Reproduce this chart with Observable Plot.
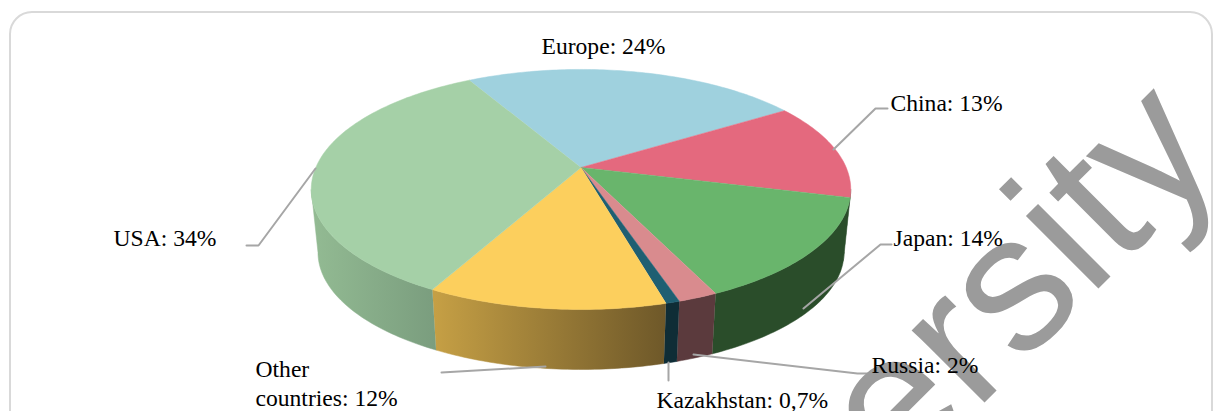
<!DOCTYPE html>
<html><head><meta charset="utf-8">
<style>html,body{margin:0;padding:0;background:#fff;overflow:hidden}svg{display:block}</style>
<script src="https://cdn.jsdelivr.net/npm/d3@7"></script>
<script src="https://cdn.jsdelivr.net/npm/@observablehq/plot@0.6"></script>
</head><body><div id="chart"></div>
<script>
// Data
const regions = ["Europe","China","Japan","Russia","Kazakhstan","Other countries","USA"];
const shares  = [24,13,14,2,0.7,12,34];
const labels  = ["Europe: 24%","China: 13%","Japan: 14%","Russia: 2%","Kazakhstan: 0,7%","Other\ncountries: 12%","USA: 34%"];
const topColors  = ["#9fd1de","#e4697e","#69b56c","#d98b8e","#1f5f72","#fccf5d","#a5d0a7"];
const wallColors = ["#6d8f98","#2a4d2a","#2a4d2a","#5b3a3d","#0f2d36","url(#wallOther)","url(#wallUSA)"];

// Layout
const W = 1213, H = 411;
const pie = {cx:580.5, cy:167, a:265.2, b:116, k:0.183, start:-29.2, vy:2708, shrink:0.975};
const labelAt = [[541,53],[890,110],[893,245],[871,372],[656,407],[255,405],[113,245]];
const leaders = [
  [],
  [[833,149],[875,108],[887,108]],
  [[803,308],[880,244],[891,244]],
  [[693,354],[857,373],[870,373]],
  [[668,362],[668,380]],
  [[545,366],[441,372]],
  [[315,168],[258,245],[246,245]]
];

const total = d3.sum(shares);
const tangent = Math.acos(-pie.k)*180/Math.PI;   // where the rim turns away from the viewer
function rim(deg){
  const t = deg*Math.PI/180, X = Math.sin(t), Y = Math.cos(t), w = 1 + pie.k*Y;
  return [pie.cx + pie.a*X/w, pie.cy - pie.b*Y/w];
}
function low([x,y]){
  return [pie.cx + (x-pie.cx)*pie.shrink, pie.vy + (y-pie.vy)*pie.shrink];
}
function arc(a0,a1){
  const n = Math.max(2, Math.ceil(Math.abs(a1-a0)));
  return d3.range(n+1).map(i => rim(a0+(a1-a0)*i/n));
}
let cursor = pie.start;
const slices = regions.map((name,i)=>{
  const a0 = cursor, a1 = cursor + shares[i]/total*360;
  cursor = a1;
  return {name,i,a0,a1};
});
const topPts = slices.flatMap(s=>[[pie.cx,pie.cy],...arc(s.a0,s.a1)].map(([x,y])=>({x,y,name:s.name,color:topColors[s.i]})));
const wallPts = slices.flatMap(s=>{
  const a0 = Math.max(s.a0,tangent), a1 = Math.min(s.a1,360-tangent);
  if (a1 <= a0) return [];
  const top = arc(a0,a1), bottom = top.map(low).reverse();
  return [...top,...bottom].map(([x,y])=>({x,y,name:s.name,color:wallColors[s.i]}));
});
const leaderPts = leaders.flatMap((l,i)=>l.map(([x,y])=>({x,y,name:regions[i]})));
const labelRows = labels.map((text,i)=>({text,x:labelAt[i][0],y:labelAt[i][1]}));

function gradients(){
  const defs = d3.create("svg:defs");
  const mk = (id,a,b)=>{
    const g = defs.append("linearGradient").attr("id",id).attr("x1",0).attr("x2",1).attr("y1",0).attr("y2",0);
    g.append("stop").attr("offset",0).attr("stop-color",a);
    g.append("stop").attr("offset",1).attr("stop-color",b);
  };
  mk("wallOther","#c6a045","#6e5829");
  mk("wallUSA","#93bb93","#7a9d7e");
  return defs.node();
}

const chart = Plot.plot({
  width:W, height:H, margin:0,
  x:{domain:[0,W],range:[0,W],axis:null},
  y:{domain:[0,H],range:[0,H],axis:null},
  color:{type:"identity"},
  style:{background:"#fff"},
  marks:[
    gradients,
    Plot.rect([{x1:10,x2:1212,y1:12,y2:440}],{x1:"x1",x2:"x2",y1:"y1",y2:"y2",fill:"#fff",stroke:"#d9d9d9",strokeWidth:2,rx:22}),
    Plot.line(wallPts,{x:"x",y:"y",z:"name",fill:"color",stroke:"color",strokeWidth:0.5,curve:"linear"}),
    Plot.line(topPts,{x:"x",y:"y",z:"name",fill:"color",stroke:"color",strokeWidth:0.5,curve:"linear"}),
    Plot.line(leaderPts,{x:"x",y:"y",z:"name",stroke:"#a6a6a6",strokeWidth:2,curve:"linear"}),
    Plot.text(["University"],{x:()=>1226,y:()=>160,text:d=>d,rotate:-45,textAnchor:"end",lineAnchor:"bottom",fontSize:194,fontFamily:"Liberation Sans",fill:"#9b9b9b"}),
    Plot.text(labelRows,{x:"x",y:"y",text:"text",textAnchor:"start",lineAnchor:"bottom",lineHeight:1.2,fontSize:23.6,fontFamily:"Liberation Serif",fill:"#000"})
  ]
});
document.getElementById("chart").append(chart);
</script></body></html>
